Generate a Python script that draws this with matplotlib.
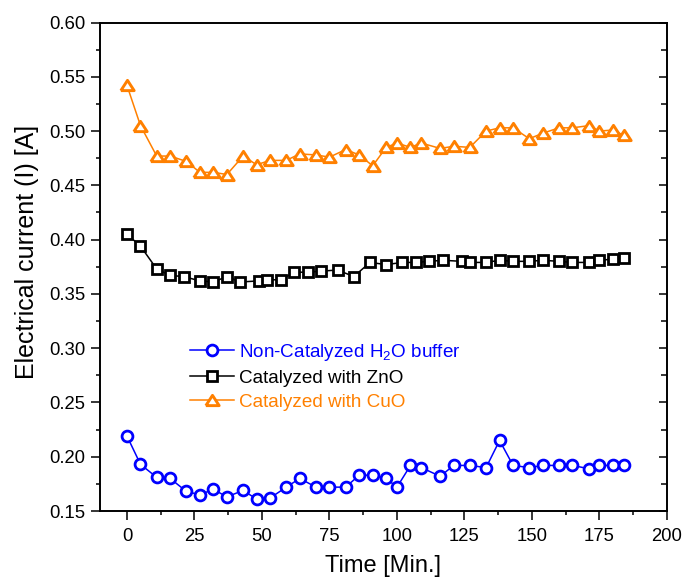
import matplotlib
matplotlib.use("Agg")
import matplotlib.pyplot as plt
from matplotlib.ticker import MultipleLocator, FormatStrFormatter

plt.rcParams['font.family'] = ['Liberation Sans', 'DejaVu Sans']
plt.rcParams['mathtext.fontset'] = 'custom'
plt.rcParams['mathtext.rm'] = 'Liberation Sans'
plt.rcParams['mathtext.it'] = 'Liberation Sans:italic'

# Sampling times (min)
time_main = [0, 5, 11, 16, 22, 27, 32, 37, 43, 48, 53, 59, 64, 70, 75, 81, 86, 91,
             96, 100, 105, 109, 116, 121, 127, 133, 138, 143, 149, 154, 160, 165,
             171, 175, 180, 184]
time_zno = [0, 5, 11, 16, 21, 27, 32, 37, 42, 49, 52, 57, 62, 67, 72, 78, 84, 90,
            96, 102, 107, 112, 117, 124, 127, 133, 138, 143, 149, 154, 160, 165,
            171, 175, 180, 184]

# Measured current (A)
current_buffer = [0.219, 0.193, 0.181, 0.180, 0.168, 0.165, 0.170, 0.163, 0.169,
                  0.161, 0.162, 0.172, 0.180, 0.172, 0.172, 0.172, 0.183, 0.183,
                  0.180, 0.172, 0.192, 0.190, 0.182, 0.192, 0.192, 0.190, 0.215,
                  0.192, 0.190, 0.192, 0.192, 0.192, 0.189, 0.192, 0.192, 0.192]
current_zno = [0.405, 0.394, 0.373, 0.367, 0.366, 0.362, 0.361, 0.366, 0.361,
               0.362, 0.363, 0.363, 0.370, 0.370, 0.371, 0.372, 0.366, 0.379,
               0.377, 0.379, 0.379, 0.380, 0.381, 0.380, 0.379, 0.379, 0.381,
               0.380, 0.380, 0.381, 0.380, 0.379, 0.379, 0.381, 0.382, 0.383]
current_cuo = [0.542, 0.505, 0.477, 0.477, 0.472, 0.462, 0.462, 0.460, 0.477,
               0.469, 0.473, 0.473, 0.479, 0.478, 0.476, 0.483, 0.478, 0.468,
               0.485, 0.489, 0.485, 0.489, 0.484, 0.486, 0.485, 0.500, 0.503,
               0.503, 0.493, 0.498, 0.503, 0.503, 0.505, 0.500, 0.501, 0.496]

labels = ['Non-Catalyzed H$_2$O buffer', 'Catalyzed with ZnO', 'Catalyzed with CuO']

BLUE = '#0000FF'
ORANGE = '#FF8000'
BLACK = '#000000'

# squat open triangle
tri = [(-1.0, -0.77), (1.0, -0.77), (0.0, 0.77), (-1.0, -0.77)]

fig = plt.figure(figsize=(6.84, 5.79), dpi=100)
ax = fig.add_axes([0.1462, 0.1174, 0.8289, 0.8437])

ax.plot(time_main, current_buffer, color=BLUE, lw=1.1, marker='o', ms=7.8,
        mew=2.0, mfc='white', mec=BLUE, label=labels[0])
ax.plot(time_zno, current_zno, color=BLACK, lw=1.1, marker='s', ms=6.6,
        mew=2.0, mfc='white', mec=BLACK, label=labels[1])
ax.plot(time_main, current_cuo, color=ORANGE, lw=1.1, marker=tri, ms=9.6,
        mew=2.1, mfc='white', mec=ORANGE, label=labels[2])

ax.set_xlim(-10, 200)
ax.set_ylim(0.15, 0.60)
ax.xaxis.set_major_locator(MultipleLocator(25))
ax.xaxis.set_minor_locator(MultipleLocator(12.5))
ax.yaxis.set_major_locator(MultipleLocator(0.05))
ax.yaxis.set_minor_locator(MultipleLocator(0.025))
ax.yaxis.set_major_formatter(FormatStrFormatter('%.2f'))

for s in ax.spines.values():
    s.set_linewidth(1.4)

ax.tick_params(axis='both', which='major', direction='out', length=6.5,
               width=1.1, labelsize=13.3, pad=4.0)
ax.tick_params(axis='both', which='minor', direction='out', length=3.2, width=1.1)
ax.tick_params(axis='x', which='major', pad=5.5)
ax.tick_params(axis='y', which='both', right=False)

# inward ticks on the right spine
ax2 = ax.twinx()
ax2.set_ylim(ax.get_ylim())
ax2.yaxis.set_major_locator(MultipleLocator(0.05))
ax2.yaxis.set_minor_locator(MultipleLocator(0.025))
ax2.tick_params(axis='y', which='major', direction='in', length=6, width=1.1,
                labelright=False)
ax2.tick_params(axis='y', which='minor', direction='in', length=4, width=1.1)
for s in ax2.spines.values():
    s.set_visible(False)

ax.set_xlabel('Time [Min.]', fontsize=17)
ax.set_ylabel('Electrical current (I) [A]', fontsize=18)
ax.xaxis.label.set_va('center')
ax.xaxis.set_label_coords(0.5, -0.113)
ax.yaxis.label.set_va('center')
ax.yaxis.set_label_coords(-0.128, 0.530)

leg = ax.legend(loc='center left', bbox_to_anchor=(0.159, 0.276), frameon=False,
                fontsize=13.6, handlelength=2.3, handletextpad=0.3,
                labelspacing=0.36, borderpad=0, borderaxespad=0,
                labelcolor='linecolor')

fig.savefig('out.png', dpi=100)
